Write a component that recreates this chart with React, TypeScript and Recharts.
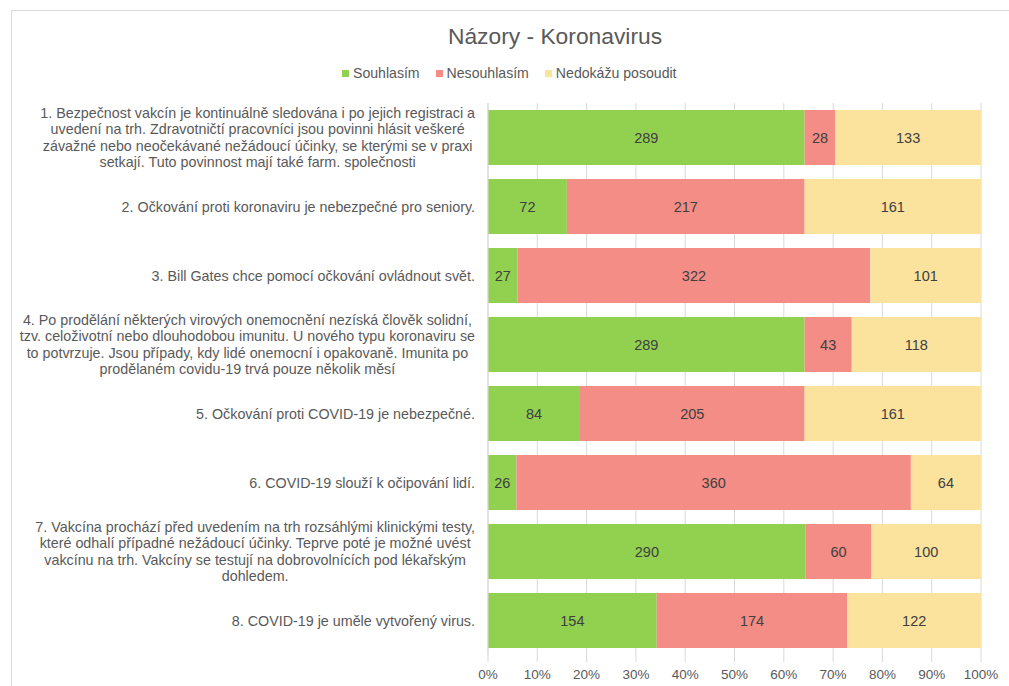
import React from "react";
import {
  BarChart,
  Bar,
  XAxis,
  YAxis,
  CartesianGrid,
  LabelList,
} from "recharts";

const categoryLines: string[][] = [
  [
    "1. Bezpečnost vakcín je kontinuálně sledována i po jejich registraci a",
    "uvedení na trh. Zdravotničtí pracovníci jsou povinni hlásit veškeré",
    "závažné nebo neočekávané nežádoucí účinky, se kterými se v praxi",
    "setkají. Tuto povinnost mají také farm. společnosti",
  ],
  ["2. Očkování proti koronaviru je nebezpečné pro seniory."],
  ["3. Bill Gates chce pomocí očkování ovládnout svět."],
  [
    "4. Po prodělání některých virových onemocnění nezíská člověk solidní,",
    "tzv. celoživotní nebo dlouhodobou imunitu. U nového typu koronaviru se",
    "to potvrzuje. Jsou případy, kdy lidé onemocní i opakovaně. Imunita po",
    "prodělaném covidu-19 trvá pouze několik měsí",
  ],
  ["5. Očkování proti COVID-19 je nebezpečné."],
  ["6. COVID-19 slouží k očipování lidí."],
  [
    "7. Vakcína prochází před uvedením na trh rozsáhlými klinickými testy,",
    "které odhalí případné nežádoucí účinky. Teprve poté je možné uvést",
    "vakcínu na trh. Vakcíny se testují na dobrovolnících pod lékařským",
    "dohledem.",
  ],
  ["8. COVID-19 je uměle vytvořený virus."],
];

const souhlasim = [289, 72, 27, 289, 84, 26, 290, 154];
const nesouhlasim = [28, 217, 322, 43, 205, 360, 60, 174];
const nedokazu = [133, 161, 101, 118, 161, 64, 100, 122];

const xTicks = [0, 0.1, 0.2, 0.3, 0.4, 0.5, 0.6, 0.7, 0.8, 0.9, 1];

const seriesNames = ["Souhlasím", "Nesouhlasím", "Nedokážu posoudit"];
const COLORS = ["#92D050", "#F38D85", "#FBE29D"];

const data = categoryLines.map((lines, i) => ({
  name: String(i),
  s: souhlasim[i],
  n: nesouhlasim[i],
  d: nedokazu[i],
}));

const FONT = "'Liberation Sans', Arial, sans-serif";
const CAT_SIZE = 14.3;

let ctx: CanvasRenderingContext2D | null = null;
const measure = (t: string) => {
  if (!ctx) {
    ctx = document.createElement("canvas").getContext("2d");
  }
  if (!ctx) return t.length * 7;
  ctx.font = `${CAT_SIZE}px ${FONT}`;
  return ctx.measureText(t).width;
};

const CategoryTick = (props: any) => {
  const { y, payload } = props;
  const lines = categoryLines[Number(payload.value)];
  const right = 475;
  const w = Math.max(...lines.map(measure));
  const cx = right - w / 2;
  const lh = 16.4;
  const y0 = y - ((lines.length - 1) * lh) / 2 + 5;
  return (
    <g>
      {lines.map((l, i) => (
        <text
          key={i}
          x={cx}
          y={y0 + i * lh}
          textAnchor="middle"
          fontSize={CAT_SIZE}
          fontFamily={FONT}
          fill="#595959"
        >
          {l}
        </text>
      ))}
    </g>
  );
};

const labelProps = {
  position: "center" as const,
  fill: "#404040",
  fontSize: 14.5,
  fontFamily: FONT,
};

export default function App() {
  return (
    <div
      style={{
        position: "absolute",
        left: 0,
        top: 0,
        width: 1009,
        height: 686,
        overflow: "hidden",
        background: "#fff",
      }}
    >
      <div
        style={{
          position: "absolute",
          left: 11,
          top: 10,
          width: 1100,
          height: 700,
          border: "1px solid #D9D9D9",
        }}
      />
      <div
        style={{
          position: "absolute",
          left: 0,
          top: 23,
          width: 1110,
          textAlign: "center",
          fontFamily: FONT,
          fontSize: 22.8,
          color: "#595959",
        }}
      >
        Názory - Koronavirus
      </div>
      <div
        style={{
          position: "absolute",
          left: 342,
          top: 65,
          display: "flex",
          fontFamily: FONT,
          fontSize: 14.1,
          color: "#595959",
          whiteSpace: "nowrap",
        }}
      >
        {seriesNames.map((n, i) => (
          <div
            key={n}
            style={{ display: "flex", alignItems: "center", marginRight: 16 }}
          >
            <span
              style={{
                width: 7,
                height: 7,
                background: COLORS[i],
                marginRight: 4,
                display: "inline-block",
              }}
            />
            {n}
          </div>
        ))}
      </div>
      <div style={{ position: "absolute", left: 0, top: 0 }}>
        <BarChart
          width={1009}
          height={686}
          data={data}
          layout="vertical"
          stackOffset="expand"
          barCategoryGap="10%"
          margin={{ top: 103, right: 28, bottom: 0, left: 0 }}
        >
          <CartesianGrid
            horizontal={false}
            vertical={true}
            stroke="#D9D9D9"
            strokeWidth={1}
          />
          <XAxis
            type="number"
            domain={[0, 1]}
            ticks={xTicks}
            tickFormatter={(v: number) => `${Math.round(v * 100)}%`}
            axisLine={false}
            tickLine={{ stroke: "#D9D9D9" }}
            tickSize={7}
            height={31}
            tick={{ fontSize: 13.5, fontFamily: FONT, fill: "#595959" }}
            tickMargin={7}
          />
          <YAxis
            type="category"
            dataKey="name"
            width={488}
            axisLine={{ stroke: "#D9D9D9" }}
            tickLine={false}
            tick={<CategoryTick />}
            interval={0}
          />
          <Bar
            dataKey="s"
            name={seriesNames[0]}
            stackId="a"
            fill={COLORS[0]}
            isAnimationActive={false}
          >
            <LabelList dataKey="s" {...labelProps} />
          </Bar>
          <Bar
            dataKey="n"
            name={seriesNames[1]}
            stackId="a"
            fill={COLORS[1]}
            isAnimationActive={false}
          >
            <LabelList dataKey="n" {...labelProps} />
          </Bar>
          <Bar
            dataKey="d"
            name={seriesNames[2]}
            stackId="a"
            fill={COLORS[2]}
            isAnimationActive={false}
          >
            <LabelList dataKey="d" {...labelProps} />
          </Bar>
        </BarChart>
      </div>
    </div>
  );
}
